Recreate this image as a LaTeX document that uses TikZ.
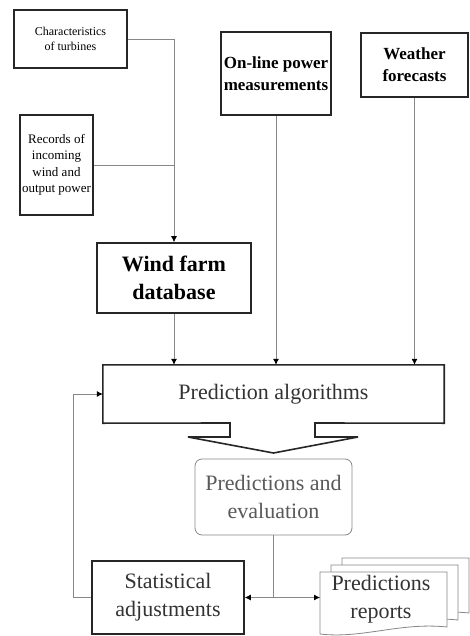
\documentclass[tikz,border=0pt]{standalone}
\usepackage{fontspec}
\setmainfont{Liberation Serif}
\usepackage{tikz}
\usetikzlibrary{positioning}
\usetikzlibrary{arrows.meta}
\definecolor{linegray}{RGB}{135,135,135}
\tikzset{edge/.style = {-{Latex[length=6pt,width=6pt,color=black]}, draw=linegray, line width=0.8pt}}

\begin{document}
\begin{tikzpicture}[x=1pt,y=-1pt,
  main node/.style={draw=black!85,line width=1.6pt,inner sep=0pt,align=center},
  big/.style={font=\fontsize{22}{28}\selectfont,text=black!80}]
\useasboundingbox (0,0) rectangle (469,636);

% sources
\node[main node,minimum width=113pt,minimum height=58pt,font=\fontsize{12}{15}\selectfont] (char) at (70.5,39) {Characteristics\\of turbines};
\node[main node,minimum width=73pt,minimum height=100pt,font=\fontsize{13}{16.5}\selectfont] (rec) at (56.5,165) {Records of\\incoming\\wind and\\output power};
\node[main node,minimum width=110pt,minimum height=83pt,font=\bfseries\fontsize{17}{22}\selectfont] (online) at (276,73.5) {On-line power\\measurements};
\node[main node,minimum width=107pt,minimum height=64pt,font=\bfseries\fontsize{17}{22}\selectfont] (weather) at (414.5,65) {Weather\\forecasts};
\node[main node,minimum width=154pt,minimum height=70pt,font=\bfseries\fontsize{22}{28}\selectfont] (wfd) at (174,278) {Wind farm\\database};

% prediction block with its arrow
\node[inner sep=0pt,minimum width=341pt,minimum height=58pt,big] (pa) at (273.5,394) {Prediction algorithms};
\draw[line width=1.6pt,draw=black!85] (pa.south west) -- (pa.north west) -- (pa.north east) -- (pa.south east)
  -- (315,423) -- (315,437) -- (358,437) -- (273.5,453) -- (188,437) -- (230,437) -- (230,423) -- cycle;

\node[draw=linegray,line width=0.8pt,rounded corners=7pt,inner sep=0pt,align=center,
  minimum width=157pt,minimum height=76pt,big,text=black!65] (pe) at (273.5,497) {Predictions and\\evaluation};
\node[main node,minimum width=152pt,minimum height=73pt,big] (sa) at (168,597.5) {Statistical\\adjustments};

% report pages
\foreach \d in {2,1,0}
  \draw[draw=linegray,line width=0.8pt,fill=white,shift={(11*\d,-7*\d)}]
    (320,572) -- (447,572) -- (447,627) .. controls (400,622) and (362,639) .. (320,634) -- cycle;
\node[inner sep=0pt,minimum width=127pt,minimum height=60pt,align=center,big] (pr) at (381,599) {Predictions\\reports};

% connectors
\draw[edge] (char.east) -| (wfd.north);
\draw[draw=linegray,line width=0.8pt] (rec.east) -- (rec.east -| wfd.north);
\draw[edge] (wfd.south) -- (wfd.south |- pa.north);
\draw[edge] (online.south) -- (online.south |- pa.north);
\draw[edge] (weather.south) -- (weather.south |- pa.north);
\coordinate (split) at (pe.south |- sa.east);
\draw[draw=linegray,line width=0.8pt] (pe.south) -- (split);
\draw[edge] (split) -- (sa.east);
\draw[edge] (split) -- (320,597.5);
\draw[edge] (sa.west) -- ++(-18,0) |- (pa.west);
\end{tikzpicture}
\end{document}
